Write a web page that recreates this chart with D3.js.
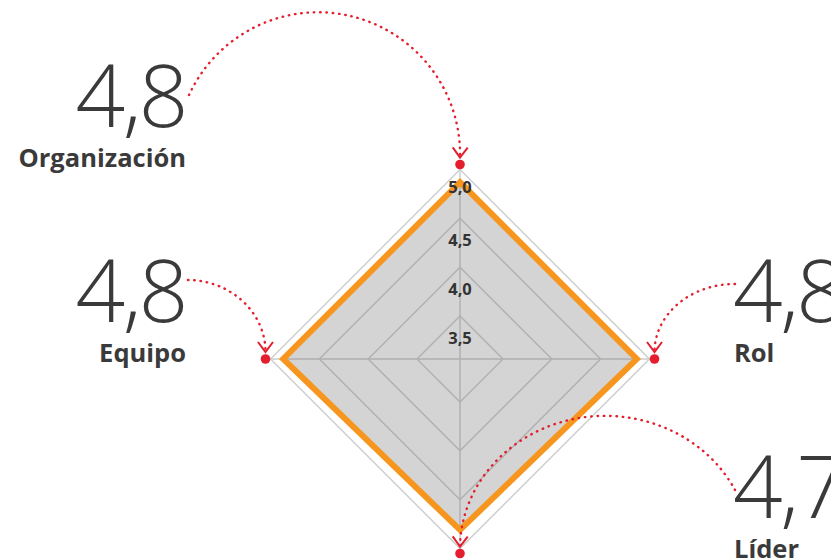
<!DOCTYPE html>
<html>
<head>
<meta charset="utf-8">
<script src="https://cdn.jsdelivr.net/npm/d3@7"></script>
<style>
  body { margin: 0; background: #fff; }
  svg { display: block; }
  .big { font-family: "Open Sans", sans-serif; font-weight: 300; font-size: 87px; letter-spacing: -2.5px; fill: #3a3a3a; }
  .name { font-family: "Open Sans", sans-serif; font-weight: 700; font-size: 25.5px; fill: #3a3a3a; }
  .tick { font-family: "Open Sans", sans-serif; font-weight: 700; font-size: 16.5px; fill: #333; }
</style>
</head>
<body>
<svg id="chart"></svg>
<script>
// data
const axes = ["Organización", "Rol", "Líder", "Equipo"];
const scores = [4.87, 4.87, 4.81, 4.87];
const scoreLabels = ["4,8", "4,8", "4,7", "4,8"];
const ticks = [3.5, 4.0, 4.5, 5.0];

const CONFIG = {
  width: 831,
  height: 559,
  cx: 460,
  cy: 359,
  colors: { grid: "#cdcdcd", fill: "rgba(100,100,100,0.28)", line: "#f7961e", red: "#e41e2c", text: "#3a3a3a" }
};

// where each big number sits and how its dotted arc runs to the axis end
const callouts = [
  { x: 186, y: 127, anchor: "end", sx: 189, sy: 95, rx: 142, ry: 142, sweep: 1 },
  { x: 733, y: 322, anchor: "start", sx: 735, sy: 284, rx: 80, ry: 68, sweep: 0 },
  { x: 733, y: 518, anchor: "start", sx: 735, sy: 490, rx: 145, ry: 133, sweep: 0 },
  { x: 186, y: 322, anchor: "end", sx: 188, sy: 280, rx: 78, ry: 72, sweep: 1 }
];

const svg = d3.select("#chart")
  .attr("width", CONFIG.width)
  .attr("height", CONFIG.height);

const rScale = d3.scaleLinear().domain([3.5, 5]).range([43, 189.5]);
const angle = (i) => -Math.PI / 2 + i * 2 * Math.PI / axes.length;
const point = (i, r) => [CONFIG.cx + r * Math.cos(angle(i)), CONFIG.cy + r * Math.sin(angle(i))];
const fmt = (v) => d3.format(".1f")(v).replace(".", ",");

svg.append("defs")
  .append("marker")
  .attr("id", "arrow")
  .attr("markerUnits", "userSpaceOnUse")
  .attr("viewBox", "-12 -10 14 20")
  .attr("markerWidth", 14)
  .attr("markerHeight", 20)
  .attr("refX", 0)
  .attr("refY", 0)
  .attr("orient", "auto")
  .append("path")
  .attr("d", "M-10,-7.5L0,0L-10,7.5")
  .attr("fill", "none")
  .attr("stroke", CONFIG.colors.red)
  .attr("stroke-width", 2);

function drawGrid() {
  const g = svg.append("g").attr("id", "grid");

  g.selectAll("polygon")
    .data(ticks)
    .enter()
    .append("polygon")
    .attr("points", (t) => axes.map((a, i) => point(i, rScale(t)).join(",")).join(" "))
    .attr("fill", "none")
    .attr("stroke", CONFIG.colors.grid)
    .attr("stroke-width", 1.4);

  g.selectAll("line")
    .data(axes)
    .enter()
    .append("line")
    .attr("x1", CONFIG.cx)
    .attr("y1", CONFIG.cy)
    .attr("x2", (d, i) => point(i, rScale(5))[0])
    .attr("y2", (d, i) => point(i, rScale(5))[1])
    .attr("stroke", CONFIG.colors.grid)
    .attr("stroke-width", 1.4);
}

function drawArea() {
  const pts = scores.map((v, i) => point(i, rScale(v)).join(",")).join(" ");

  svg.append("polygon")
    .attr("points", pts)
    .attr("fill", CONFIG.colors.fill);

  svg.append("polygon")
    .attr("points", pts)
    .attr("fill", "none")
    .attr("stroke", CONFIG.colors.line)
    .attr("stroke-width", 6)
    .attr("stroke-linejoin", "miter");

  // tick labels sit just under each ring's top corner
  svg.selectAll("text.tick")
    .data(ticks)
    .enter()
    .append("text")
    .classed("tick", true)
    .attr("x", CONFIG.cx)
    .attr("y", (t) => CONFIG.cy - rScale(t) + (t === 5 ? 23 : 28))
    .style("text-anchor", "middle")
    .text((t) => fmt(t));
}

function drawCallouts() {
  const rDot = rScale(5) + 5;

  axes.forEach((name, i) => {
    const c = callouts[i];
    const dot = point(i, rDot);
    const tipX = dot[0], tipY = dot[1] - 7;

    svg.append("path")
      .attr("d", "M" + c.sx + "," + c.sy + "A" + c.rx + "," + c.ry + " 0 0 " + c.sweep + " " + tipX + "," + tipY)
      .attr("fill", "none")
      .attr("stroke", CONFIG.colors.red)
      .attr("stroke-width", 2.4)
      .attr("stroke-linecap", "round")
      .attr("stroke-dasharray", "0.5,5.8")
      .attr("marker-end", "url(#arrow)");

    svg.append("circle")
      .attr("cx", dot[0])
      .attr("cy", dot[1])
      .attr("r", 4.8)
      .attr("fill", CONFIG.colors.red);

    svg.append("text")
      .classed("big", true)
      .attr("x", c.x)
      .attr("y", c.y)
      .style("text-anchor", c.anchor)
      .text(scoreLabels[i]);

    svg.append("text")
      .classed("name", true)
      .attr("x", c.anchor === "end" ? c.x : c.x + 1)
      .attr("y", c.y + 40)
      .style("text-anchor", c.anchor)
      .text(name);
  });
}

drawGrid();
drawArea();
drawCallouts();
</script>
</body>
</html>
